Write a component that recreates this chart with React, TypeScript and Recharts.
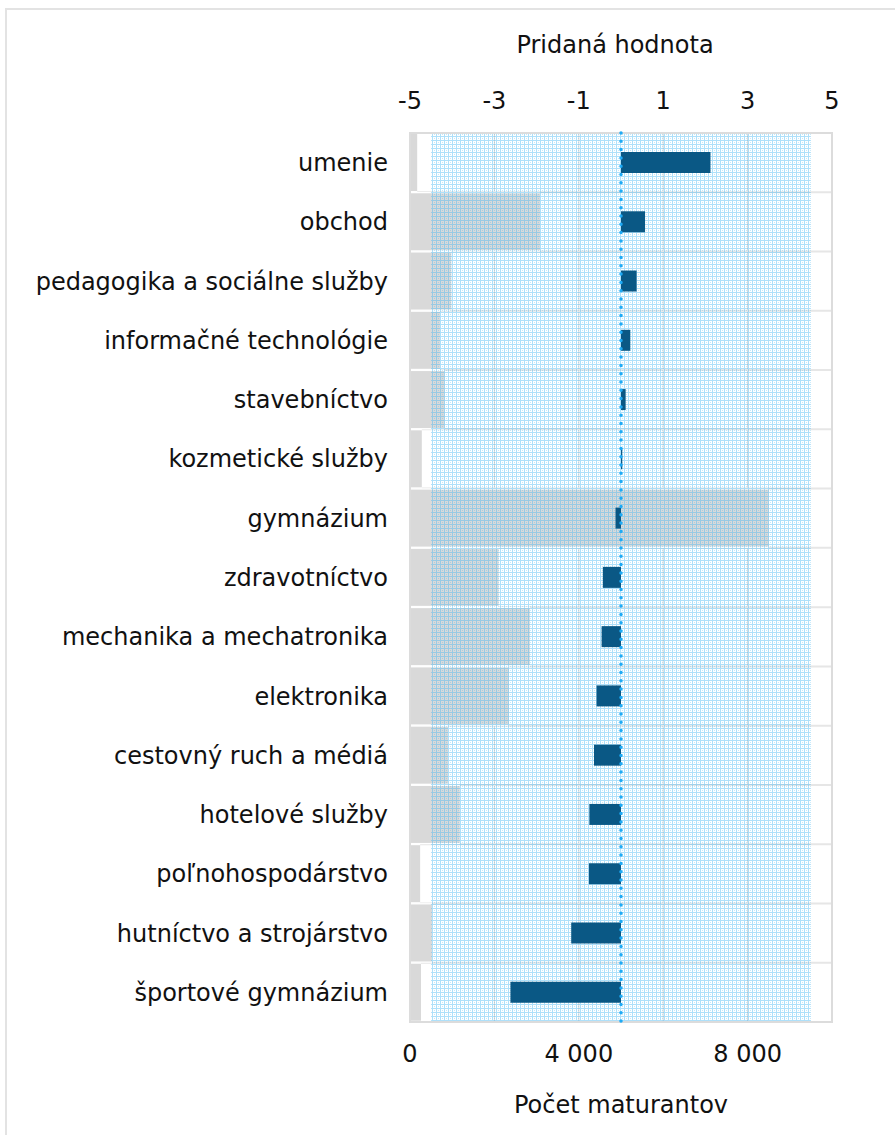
import { BarChart, Bar, XAxis, YAxis, CartesianGrid, ReferenceArea, ReferenceLine } from "recharts";

const categories = [
  "umenie",
  "obchod",
  "pedagogika a sociálne služby",
  "informačné technológie",
  "stavebníctvo",
  "kozmetické služby",
  "gymnázium",
  "zdravotníctvo",
  "mechanika a mechatronika",
  "elektronika",
  "cestovný ruch a médiá",
  "hotelové služby",
  "poľnohospodárstvo",
  "hutníctvo a strojárstvo",
  "športové gymnázium",
];
const pocetMaturantov = [170, 3080, 980, 710, 820, 280, 8500, 2100, 2840, 2340, 900, 1180, 240, 520, 260];
const pridanaHodnota = [2.12, 0.57, 0.37, 0.22, 0.11, 0.03, -0.13, -0.43, -0.46, -0.58, -0.64, -0.75, -0.76, -1.18, -2.62];

const valueTicks = [-5, -3, -1, 1, 3, 5];
const valueDomain = [-5, 5];
const countTicks = [0, 4000, 8000];
const countDomain = [0, 10000];
const bandRange = [-4.5, 4.5];

const data = categories.map((name, i) => ({ name, pocet: pocetMaturantov[i], hodnota: pridanaHodnota[i] }));

const font = { fontFamily: "DejaVu Sans, Verdana, sans-serif", fontSize: 24, fill: "#111111" };

const fmtThousands = (v: number) => String(v).replace(/\B(?=(\d{3})+(?!\d))/g, " ");

// gray bar with white gap to the neighbouring rows
function GrayBar(props: any) {
  const { x, y, width, height } = props;
  if (width == null || width <= 0) return null;
  return (
    <g>
      <rect x={x} y={y - 1.3} width={width} height={height + 2.6} fill="#ffffff" />
      <rect x={x} y={y} width={width} height={height} fill="#d9d9d9" />
    </g>
  );
}

export default function App() {
  return (
    <div style={{ position: "absolute", left: 0, top: 0, width: 895, height: 1135, fontFamily: font.fontFamily }}>
      <svg width={0} height={0} style={{ position: "absolute" }}>
        <defs>
          <pattern id="hatch" width={4} height={4} patternUnits="userSpaceOnUse">
            <rect x={0} y={0} width={4} height={1} fill="#3db6f4" fillOpacity={0.42} />
            <rect x={0} y={1} width={1} height={3} fill="#3db6f4" fillOpacity={0.42} />
            <rect x={2} y={2} width={1} height={1} fill="#3db6f4" fillOpacity={0.3} />
          </pattern>
        </defs>
      </svg>
      <div
        style={{
          position: "absolute",
          left: 5,
          top: 8,
          width: 890,
          height: 1127,
          boxSizing: "border-box",
          borderTop: "2px solid #e3e3e3",
          borderLeft: "2px solid #e3e3e3",
          pointerEvents: "none",
        }}
      />
      <BarChart
        width={895}
        height={1135}
        data={data}
        layout="vertical"
        margin={{ top: 0, right: 63, bottom: 0, left: 0 }}
      >
        <CartesianGrid xAxisId="val" yAxisId="a" horizontal={false} stroke="#d6d6d6" />
        <CartesianGrid
          xAxisId="val"
          yAxisId="a"
          vertical={false}
          stroke="#e6e6e6"
          strokeWidth={2}
          horizontalCoordinatesGenerator={({ offset }: any) =>
            categories
              .map((_, i) => offset.top + (i * offset.height) / categories.length)
              .concat(offset.top + offset.height)
          }
        />
        <XAxis
          xAxisId="val"
          orientation="top"
          type="number"
          domain={valueDomain}
          ticks={valueTicks}
          interval={0}
          height={133}
          axisLine={false}
          tickLine={false}
          tickSize={0}
          tickMargin={24}
          tick={font}
          allowDataOverflow
          label={{ value: "Pridaná hodnota", position: "insideTop", offset: 36, dx: -6, ...font }}
        />
        <XAxis
          xAxisId="cnt"
          orientation="bottom"
          type="number"
          domain={countDomain}
          ticks={countTicks}
          interval={0}
          height={113}
          axisLine={false}
          tickLine={false}
          tickSize={0}
          tickMargin={23}
          tick={font}
          tickFormatter={fmtThousands}
          allowDataOverflow
          label={{ value: "Počet maturantov", position: "insideBottom", offset: 22, ...font }}
        />
        <YAxis
          yAxisId="a"
          type="category"
          dataKey="name"
          width={410}
          interval={0}
          axisLine={false}
          tickLine={false}
          tickSize={0}
          tickMargin={22}
          tick={font}
        />
        <YAxis yAxisId="b" type="category" dataKey="name" hide />
        <Bar
          xAxisId="cnt"
          yAxisId="a"
          dataKey="pocet"
          barSize={57}
          fill="#d9d9d9"
          shape={GrayBar}
          isAnimationActive={false}
        />
        <ReferenceArea
          xAxisId="val"
          yAxisId="a"
          x1={bandRange[0]}
          x2={bandRange[1]}
          fill="url(#hatch)"
          fillOpacity={1}
          stroke="none"
          zIndex={350}
        />
        <ReferenceArea
          xAxisId="val"
          yAxisId="a"
          x1={valueDomain[0]}
          x2={valueDomain[1]}
          fill="none"
          stroke="#dcdcdc"
          strokeWidth={2}
          zIndex={360}
        />
        <Bar
          xAxisId="val"
          yAxisId="b"
          dataKey="hodnota"
          barSize={21}
          fill="#0a5885"
          isAnimationActive={false}
          zIndex={400}
        />
        <ReferenceLine
          xAxisId="val"
          yAxisId="a"
          x={0}
          stroke="#1eaaf5"
          strokeWidth={3.5}
          strokeDasharray="0 8.3"
          strokeLinecap="round"
          zIndex={450}
        />
      </BarChart>
    </div>
  );
}
